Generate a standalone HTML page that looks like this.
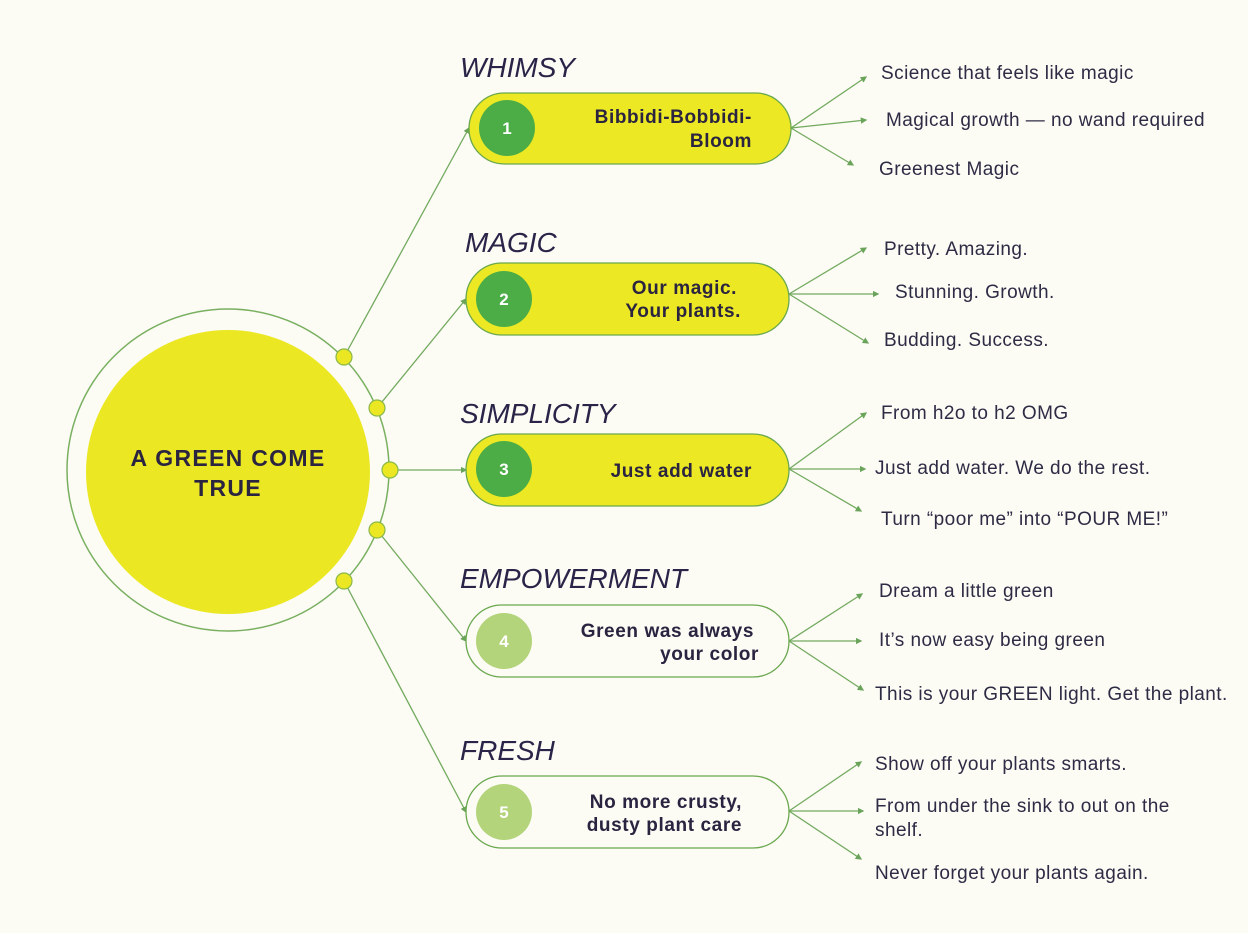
<!DOCTYPE html>
<html><head><meta charset="utf-8"><style>
html,body{margin:0;padding:0;background:#fcfbf4;}
svg{display:block;}
text{font-family:"Liberation Sans",sans-serif;}
.t{font-size:19px;letter-spacing:0.45px;fill:#2e2b45;}
.c{font-size:28px;font-style:italic;fill:#2a2548;}
.p{font-size:19px;letter-spacing:0.6px;font-weight:bold;fill:#2a2440;text-anchor:end;}
.n{font-size:17px;font-weight:bold;fill:#fff;text-anchor:middle;}
</style></head><body>
<svg width="1248" height="933" viewBox="0 0 1248 933" xmlns="http://www.w3.org/2000/svg">
<defs><marker id="a" markerWidth="5" markerHeight="5" refX="4" refY="2.5" orient="auto"><path d="M0,0 L5,2.5 L0,5 z" fill="#6aa45a"/></marker></defs>
<rect width="1248" height="933" fill="#fcfbf4"/>
<circle cx="228" cy="470" r="161" fill="none" stroke="#79b060" stroke-width="1.5"/>
<circle cx="228" cy="472" r="142" fill="#ebe823"/>
<text x="228" y="466" text-anchor="middle" style="font-size:23px;letter-spacing:1.3px;font-weight:bold;fill:#2a2440">A GREEN COME</text>
<text x="228" y="496" text-anchor="middle" style="font-size:23px;letter-spacing:1.3px;font-weight:bold;fill:#2a2440">TRUE</text>
<g stroke="#72aa5e" stroke-width="1.3" fill="none" marker-end="url(#a)">
<line x1="344" y1="357" x2="469" y2="128"/>
<line x1="377" y1="408" x2="466" y2="299"/>
<line x1="390" y1="470" x2="466" y2="470"/>
<line x1="377" y1="530" x2="466" y2="641"/>
<line x1="344" y1="581" x2="466" y2="812"/>
<line x1="791" y1="128" x2="866" y2="77"/><line x1="791" y1="128" x2="866" y2="120"/><line x1="791" y1="128" x2="853" y2="165"/>
<line x1="789" y1="294" x2="866" y2="248"/><line x1="789" y1="294" x2="878" y2="294"/><line x1="789" y1="294" x2="868" y2="343"/>
<line x1="789" y1="469" x2="866" y2="413"/><line x1="789" y1="469" x2="865" y2="469"/><line x1="789" y1="469" x2="861" y2="511"/>
<line x1="789" y1="641" x2="862" y2="594"/><line x1="789" y1="641" x2="861" y2="641"/><line x1="789" y1="641" x2="863" y2="690"/>
<line x1="789" y1="811" x2="861" y2="762"/><line x1="789" y1="811" x2="863" y2="811"/><line x1="789" y1="811" x2="861" y2="859"/>
</g>
<g fill="#ebe823" stroke="#8ab84a" stroke-width="1.2">
<circle cx="344" cy="357" r="8"/><circle cx="377" cy="408" r="8"/><circle cx="390" cy="470" r="8"/><circle cx="377" cy="530" r="8"/><circle cx="344" cy="581" r="8"/>
</g>
<g stroke="#6aa84e" stroke-width="1.3">
<rect x="469" y="93" width="322" height="71" rx="35.5" fill="#ece824"/>
<rect x="466" y="263" width="323" height="72" rx="36" fill="#ece824"/>
<rect x="466" y="434" width="323" height="72" rx="36" fill="#ece824"/>
<rect x="466" y="605" width="323" height="72" rx="36" fill="#fcfbf4"/>
<rect x="466" y="776" width="323" height="72" rx="36" fill="#fcfbf4"/>
</g>
<circle cx="507" cy="128" r="28" fill="#4cad47"/>
<circle cx="504" cy="299" r="28" fill="#4cad47"/>
<circle cx="504" cy="469" r="28" fill="#4cad47"/>
<circle cx="504" cy="641" r="28" fill="#b3d47a"/>
<circle cx="504" cy="812" r="28" fill="#b3d47a"/>
<text class="n" x="507" y="134">1</text><text class="n" x="504" y="305">2</text><text class="n" x="504" y="475">3</text><text class="n" x="504" y="647">4</text><text class="n" x="504" y="818">5</text>
<text class="p" x="752" y="123">Bibbidi-Bobbidi-</text><text class="p" x="752" y="147">Bloom</text>
<text class="p" x="737" y="294">Our magic.</text><text class="p" x="741" y="317">Your plants.</text>
<text class="p" x="752" y="477">Just add water</text>
<text class="p" x="754" y="637">Green was always</text><text class="p" x="759" y="660">your color</text>
<text class="p" x="742" y="808">No more crusty,</text><text class="p" x="742" y="831">dusty plant care</text>
<text class="c" x="460" y="77">WHIMSY</text>
<text class="c" x="465" y="252">MAGIC</text>
<text class="c" x="460" y="423">SIMPLICITY</text>
<text class="c" x="460" y="588">EMPOWERMENT</text>
<text class="c" x="460" y="760">FRESH</text>
<text class="t" x="881" y="79">Science that feels like magic</text>
<text class="t" x="886" y="126">Magical growth — no wand required</text>
<text class="t" x="879" y="175">Greenest Magic</text>
<text class="t" x="884" y="255">Pretty. Amazing.</text>
<text class="t" x="895" y="298">Stunning. Growth.</text>
<text class="t" x="884" y="346">Budding. Success.</text>
<text class="t" x="881" y="419">From h2o to h2 OMG</text>
<text class="t" x="875" y="474">Just add water. We do the rest.</text>
<text class="t" x="881" y="525">Turn “poor me” into “POUR ME!”</text>
<text class="t" x="879" y="597">Dream a little green</text>
<text class="t" x="879" y="646">It’s now easy being green</text>
<text class="t" x="875" y="700">This is your GREEN light. Get the plant.</text>
<text class="t" x="875" y="770">Show off your plants smarts.</text>
<text class="t" x="875" y="812">From under the sink to out on the</text>
<text class="t" x="875" y="836">shelf.</text>
<text class="t" x="875" y="879">Never forget your plants again.</text>
</svg>
</body></html>
